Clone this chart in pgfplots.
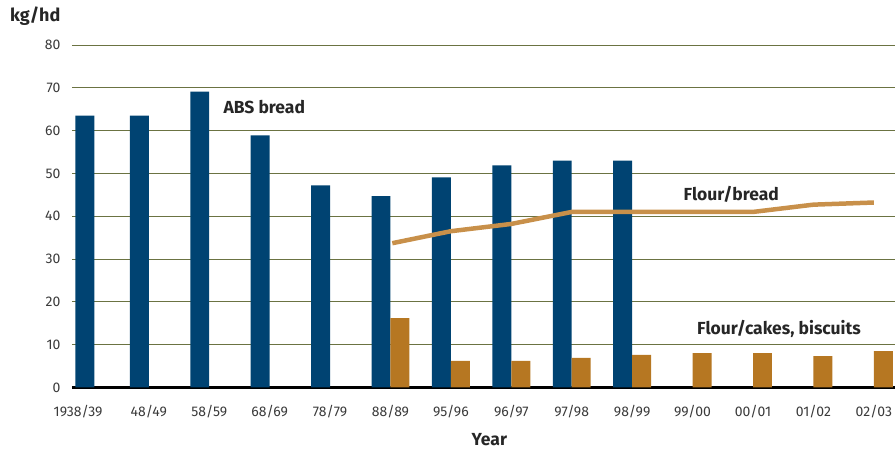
\documentclass[border=0pt]{standalone}
\usepackage{pgfplots}
\pgfplotsset{compat=1.18}
\usepackage{fontspec}
\setmainfont{Fira Sans}
\definecolor{absblue}{HTML}{004372}
\definecolor{cakeorange}{HTML}{B67722}
\definecolor{breadline}{HTML}{C8904A}
\definecolor{gridolive}{HTML}{6B7342}
\definecolor{ticktext}{HTML}{3A3A3A}
\begin{document}
\begin{tikzpicture}
\begin{axis}[
  scale only axis,
  width=824pt, height=343pt,
  at={(0,0)}, anchor=south west,
  xmin=-0.273, xmax=13.347,
  ymin=0, ymax=80,
  ytick={0,10,...,80},
  xtick={-0.17,1,2,3,4,5,6,7,8,9,10,11,12,13},
  xticklabels={1938/39,48/49,58/59,68/69,78/79,88/89,95/96,96/97,97/98,98/99,99/00,00/01,01/02,02/03},
  axis x line*=bottom,
  axis y line*=left,
  y axis line style={draw=none},
  x axis line style={line width=2.4pt, black, -},
  major tick length=0pt,
  ymajorgrids,
  grid style={gridolive, line width=0.8pt},
  /pgf/number format/assume math mode=true,
  ticklabel style={font=\fontsize{14}{14}\selectfont, text=ticktext},
  yticklabel style={xshift=-8pt},
  xticklabel style={yshift=-14pt},
  clip=false,
]
% ABS bread consumption
\addplot[ybar, bar width=19pt, bar shift=-9.5pt, fill=absblue, draw=none]
  coordinates {(0.1,63.5) (1,63.5) (2,69.1) (3,58.9) (4,47.2) (5,44.7)
               (6,49.1) (7,51.9) (8,53.0) (9,53.0)};
% flour used for cakes and biscuits
\addplot[ybar, bar width=19pt, bar shift=9.5pt, fill=cakeorange, draw=none]
  coordinates {(5,16.2) (6,6.2) (7,6.2) (8,6.9) (9,7.6) (10,8.0)
               (11,8.0) (12,7.3) (13,8.5)};
% flour used for bread
\addplot[breadline, line width=4.5pt, no markers]
  coordinates {(5.03,33.7) (6,36.5) (7,38.2) (8,41.0) (9,41.0) (10,41.0)
               (11,41.0) (12,42.7) (13,43.2)};
\node[anchor=west, font=\fontsize{17.5}{17.5}\selectfont\bfseries, text=black!85]
  at (axis cs:2.18,65.6) {ABS bread};
\node[font=\fontsize{17.5}{17.5}\selectfont\bfseries, text=black!85]
  at (axis cs:10.64,45.1) {Flour/bread};
\node[font=\fontsize{17.5}{17.5}\selectfont\bfseries, text=black!85]
  at (axis cs:11.43,13.6) {Flour/cakes, biscuits};
\end{axis}
\node[anchor=north west, inner sep=0pt, font=\fontsize{18}{18}\selectfont\bfseries, text=black!85]
  at (-62pt,381pt) {kg/hd};
\node[font=\fontsize{17.5}{17.5}\selectfont\bfseries, text=black!85]
  at (418pt,-52pt) {Year};
\useasboundingbox (-72pt,-63pt) rectangle (824pt,388pt);
\end{tikzpicture}
\end{document}
